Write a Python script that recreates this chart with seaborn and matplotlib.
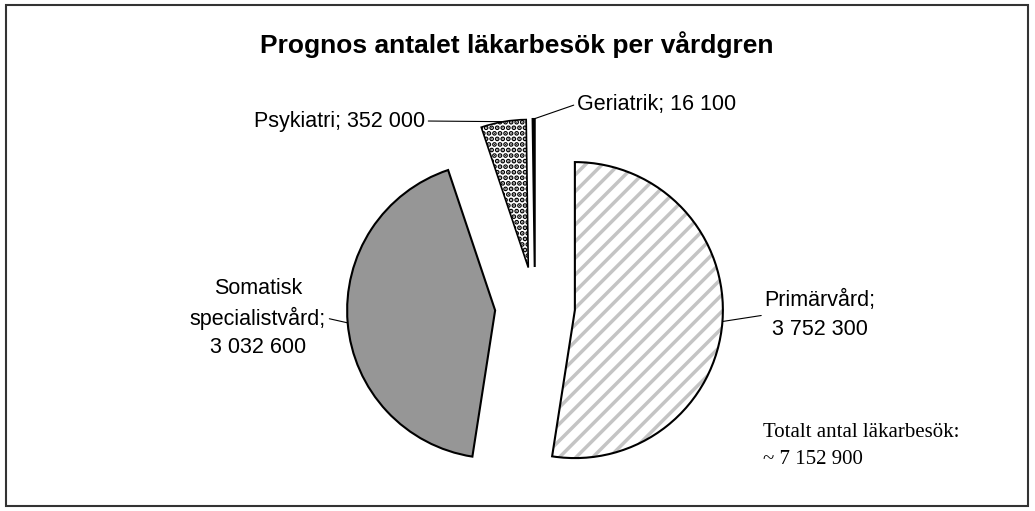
import numpy as np
import matplotlib
matplotlib.use("Agg")
import matplotlib.pyplot as plt
from matplotlib.patches import Rectangle, Wedge
import seaborn as sns

# data
categories = ["Primärvård", "Somatisk specialistvård", "Psykiatri", "Geriatrik"]
visits = [3752300, 3032600, 352000, 16100]
label_texts = ["Primärvård;\n3 752 300", "Somatisk\nspecialistvård;\n3 032 600",
               "Psykiatri; 352 000", "Geriatrik; 16 100"]
total_text = "Totalt antal läkarbesök:\n~ 7 152 900"
title = "Prognos antalet läkarbesök per vårdgren"

sns.set_theme(style="white")
plt.rcParams["font.family"] = ["Liberation Sans", "DejaVu Sans"]
plt.rcParams["hatch.linewidth"] = 2.5

W, H = 1035, 511
fig = plt.figure(figsize=(W / 100, H / 100), dpi=100)
ax = fig.add_axes([0, 0, 1, 1])

center = (535, H - 307)
radius = 148
explode = [40, 40, 40, 40]
colors = ["white", "#969696", "white", "black"]

wedges, _ = ax.pie(visits, explode=explode, colors=colors, startangle=90,
                   counterclock=False, radius=radius, center=center, frame=True,
                   wedgeprops=dict(edgecolor="black", linewidth=1.5))
ax.set_xlim(0, W)
ax.set_ylim(0, H)
ax.set_axis_off()

# hatch for primary care (light gray stripes) and dots for psychiatry
w0 = wedges[0]
w0.set_edgecolor("#c4c4c4")
w0.set_linewidth(0)
w0.set_hatch("//")
ax.add_patch(Wedge(w0.center, w0.r, w0.theta1, w0.theta2, fill=False,
                   edgecolor="black", linewidth=1.5, zorder=w0.get_zorder() + 1))
w2 = wedges[2]
w2.set_hatch("...")
w2.set_linewidth(1.2)

# labels with leader lines
label_pos = [(820, 315), (258, 318), (425, 121), (577, 104)]
label_ha = ["center", "center", "right", "left"]
relpos = [(0, 0.5), (1, 0.5), (1, 0.5), (0, 0.5)]
for w, txt, pos, ha, rp in zip(wedges, label_texts, label_pos, label_ha, relpos):
    tm = np.deg2rad((w.theta1 + w.theta2) / 2)
    xy = (w.center[0] + w.r * np.cos(tm), w.center[1] + w.r * np.sin(tm))
    ax.annotate(txt, xy=xy, xytext=(pos[0], H - pos[1]), ha=ha, va="center",
                multialignment="center", fontsize=15.5, color="black",
                linespacing=1.45,
                arrowprops=dict(arrowstyle="-", color="black", lw=0.8,
                                relpos=rp, shrinkA=0, shrinkB=0))

ax.text(517, H - 45, title, ha="center", va="center", fontsize=19,
        fontweight="bold", color="black")
ax.text(763, H - 446, total_text, ha="left", va="center", fontsize=15,
        family=["Liberation Serif", "DejaVu Serif"], linespacing=1.6,
        color="black")

fig.patches.append(Rectangle((6 / W, 5 / H), 1022 / W, 501 / H, fill=False,
                             edgecolor="#333333", linewidth=1.5,
                             transform=fig.transFigure, figure=fig))

fig.savefig("out.png", dpi=100)
